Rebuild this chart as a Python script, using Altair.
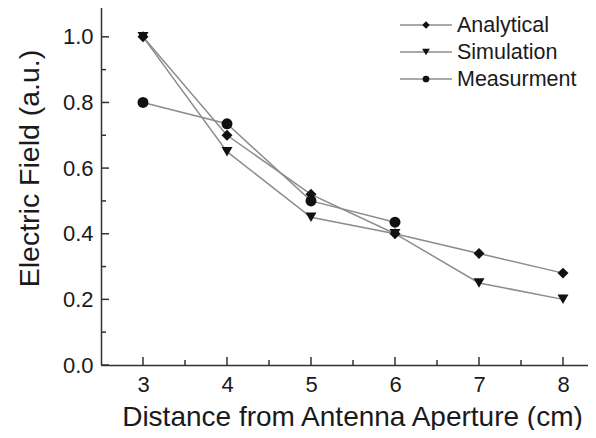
import altair as alt
import pandas as pd

# ---- data ----
series_names = ["Analytical", "Simulation", "Measurment"]
distance = [3, 4, 5, 6, 7, 8]
analytical = [1.0, 0.70, 0.52, 0.40, 0.34, 0.28]
simulation = [1.0, 0.65, 0.45, 0.40, 0.25, 0.20]
meas_distance = [3, 4, 5, 6]
measurement = [0.80, 0.735, 0.50, 0.435]

x_major = [3, 4, 5, 6, 7, 8]
x_minor = [3.5, 4.5, 5.5, 6.5, 7.5]
y_major = [0.0, 0.2, 0.4, 0.6, 0.8, 1.0]
y_minor = [0.1, 0.3, 0.5, 0.7, 0.9]

rows = []
for d, v in zip(distance, analytical):
    rows.append({"series": "Analytical", "distance": d, "field": v})
for d, v in zip(distance, simulation):
    rows.append({"series": "Simulation", "distance": d, "field": v})
for d, v in zip(meas_distance, measurement):
    rows.append({"series": "Measurment", "distance": d, "field": v})
df = pd.DataFrame(rows)

FONT = "Liberation Sans"
TXT = "#1a1a1a"
LINE = "#8c8c8c"
AX = "#333333"
W, H = 487, 361

xs = alt.Scale(domain=[2.5, 2.5 + W / 84.0], nice=False, zero=False)
ys = alt.Scale(domain=[0, 1.1], nice=False, zero=False)

xaxis = alt.Axis(values=x_major, format="d", ticks=False, tickSize=0, grid=False,
                 labelPadding=9, labelFontSize=22, labelFont=FONT, labelColor=TXT,
                 title="Distance from Antenna Aperture (cm)", titleFont=FONT,
                 titleFontSize=28, titleFontWeight="normal", titleColor=TXT,
                 titleX=251, titleY=60, titleBaseline="alphabetic", titleAlign="center",
                 domainColor=AX, domainWidth=1.5)
yaxis = alt.Axis(values=y_major, format=".1f", ticks=False, tickSize=0, grid=False,
                 labelPadding=8, labelFontSize=22, labelFont=FONT, labelColor=TXT,
                 title="Electric Field (a.u.)", titleFont=FONT,
                 titleFontSize=28.5, titleFontWeight="normal", titleColor=TXT,
                 titleX=-63, titleY=164, titleAngle=270, titleBaseline="alphabetic",
                 titleAlign="center", domainColor=AX, domainWidth=1.5)

X = alt.X("distance:Q", scale=xs, axis=xaxis)
Y = alt.Y("field:Q", scale=ys, axis=yaxis)

shape_scale = alt.Scale(domain=series_names, range=["diamond", "triangle-down", "circle"])
size_scale = alt.Scale(domain=series_names, range=[120, 120, 80])

lines = alt.Chart(df).mark_line(color=LINE, strokeWidth=1.5).encode(
    x=X, y=Y, detail="series:N")
points = alt.Chart(df).mark_point(filled=True, color="#111111", opacity=1).encode(
    x=X, y=Y,
    shape=alt.Shape("series:N", scale=shape_scale, legend=None),
    size=alt.Size("series:N", scale=size_scale, legend=None))

# inward ticks
ymaj = alt.Chart(pd.DataFrame({"field": y_major})).mark_rule(color=AX, strokeWidth=1.5).encode(
    y=Y, x=alt.value(0), x2=alt.value(8))
ymin = alt.Chart(pd.DataFrame({"field": y_minor})).mark_rule(color=AX, strokeWidth=1.5).encode(
    y=Y, x=alt.value(0), x2=alt.value(5))
xmaj = alt.Chart(pd.DataFrame({"distance": x_major})).mark_rule(color=AX, strokeWidth=1.5).encode(
    x=X, y=alt.value(H), y2=alt.value(H - 8))
xmin = alt.Chart(pd.DataFrame({"distance": x_minor})).mark_rule(color=AX, strokeWidth=1.5).encode(
    x=X, y=alt.value(H), y2=alt.value(H - 5))

one = pd.DataFrame({"a": [0]})
top_border = alt.Chart(one).mark_rule(color=AX, strokeWidth=1.5).encode(
    x=alt.value(0), x2=alt.value(W), y=alt.value(0))

legend_layers = []
shapes = ["diamond", "triangle-down", "circle"]
leg_sizes = [55, 60, 45]
for i, name in enumerate(series_names):
    yy = 21 + 27 * i
    legend_layers.append(alt.Chart(one).mark_rule(color=LINE, strokeWidth=1.5).encode(
        x=alt.value(299), x2=alt.value(351), y=alt.value(yy)))
    legend_layers.append(alt.Chart(one).mark_point(filled=True, color="#111111", opacity=1,
                                                   shape=shapes[i], size=leg_sizes[i]).encode(
        x=alt.value(325), y=alt.value(yy)))
    legend_layers.append(alt.Chart(one).mark_text(align="left", baseline="middle", font=FONT,
                                                  fontSize=21.5, color=TXT).encode(
        x=alt.value(356), y=alt.value(yy + 1), text=alt.value(name)))

chart = alt.layer(lines, ymaj, ymin, xmaj, xmin, top_border, points, *legend_layers).properties(
    width=W, height=H,
    autosize=alt.AutoSizeParams(type="none"),
    padding={"left": 93, "top": -4, "right": 0, "bottom": 65},
).configure_view(stroke=None)

chart.save("out.html", embed_options={"renderer": "svg", "actions": False})
